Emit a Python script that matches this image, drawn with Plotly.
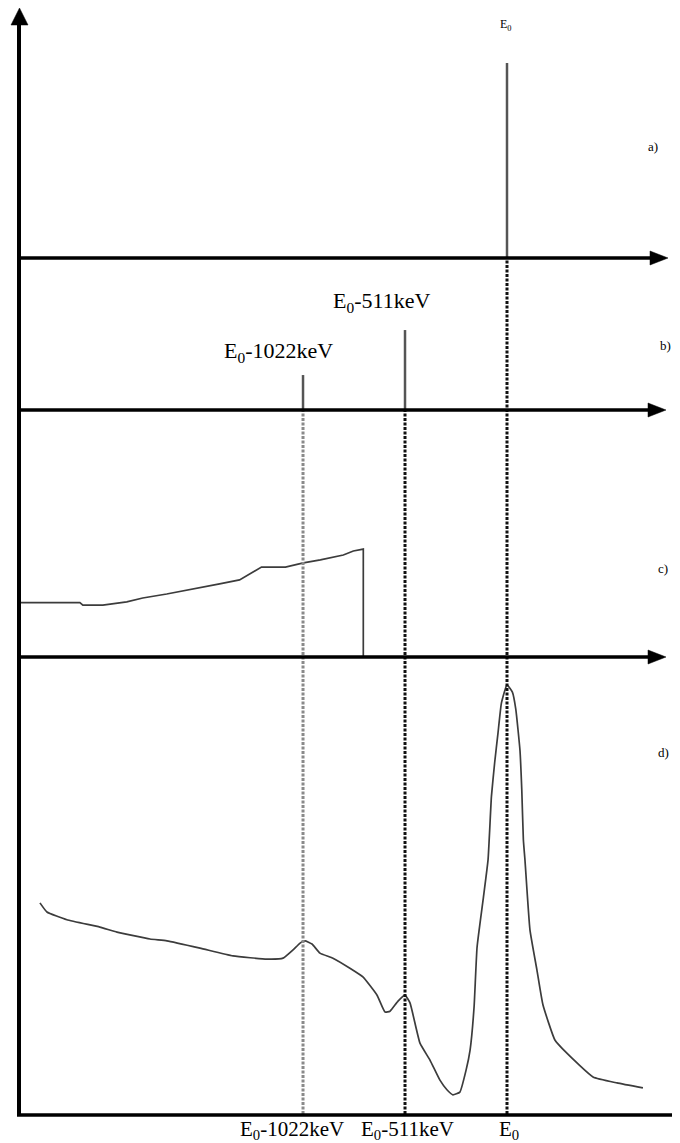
import plotly.graph_objects as go

# ---------------- data (schematic gamma spectrum, energy in keV) ----------------
E0 = 2440
# a) full-energy line only
a_energy = [2440]
a_height = [78]
# b) single and double escape lines
b_energy = [1418, 1929]
b_height = [23, 52.6]
b_labels = ["E<sub>0</sub>-1022keV", "E<sub>0</sub>-511keV"]
# c) Compton continuum
c_energy = [0, 300, 315, 415, 535, 615, 735, 900, 1000, 1100, 1210, 1330, 1420, 1505, 1620, 1670, 1720, 1720]
c_counts = [22, 22, 21, 21, 22.3, 23.9, 25.5, 27.9, 29.6, 31.2, 36.4, 36.4, 38.1, 39.3, 41.3, 42.9, 43.7, 0]
# d) measured spectrum
d_energy = [100, 135, 235, 400, 486, 651, 736, 902, 1067, 1237, 1318, 1368, 1403, 1428, 1463, 1503,
            1568, 1653, 1718, 1789, 1829, 1854, 1894, 1929, 1954, 2004, 2054, 2104, 2139, 2169, 2204,
            2235, 2255, 2275, 2290, 2320, 2345, 2362, 2378, 2395, 2412, 2440, 2467, 2484, 2505, 2514,
            2522, 2530, 2555, 2590, 2620, 2680, 2740, 2871, 2991, 3121]
d_counts = [46.2, 44.2, 42.5, 40.9, 39.8, 38.3, 37.9, 36.3, 34.6, 33.9, 34.1, 35.9, 37.4, 37.9, 37.2, 35.2,
            34.1, 31.9, 30.0, 26.0, 22.3, 22.5, 24.7, 26.0, 24.3, 15.5, 11.8, 7.4, 5.3, 4.2, 4.8,
            9.6, 14.0, 23.4, 36.5, 46.8, 55.6, 69.5, 76.8, 83.4, 89.9, 93.9, 92.3, 88.6, 79.6, 71.0,
            60.0, 55.6, 40.3, 31.5, 23.9, 16.2, 13.3, 8.1, 6.8, 5.7]
bottom_labels = ["E<sub>0</sub>-1022keV", "E<sub>0</sub>-511keV", "E<sub>0</sub>"]
panel_tags = ["a)", "b)", "c)", "d)"]

# ---------------- layout helpers ----------------
# the html page has an 8px body margin; the figure is placed inside it
OFF = 8
W, H = 680 - 2 * OFF, 1143 - OFF
def X(px):
    return (px - OFF) / W
def Y(py):
    return 1 - (py - OFF) / H

FONT = "Liberation Serif"
line_dark = "#3c3c3c"
stick = "#555555"

fig = go.Figure()

# a) stick
sx, sy = [], []
for e, h in zip(a_energy, a_height):
    sx += [e, e, None]; sy += [0, h, None]
fig.add_trace(go.Scatter(x=sx, y=sy, mode="lines", yaxis="y",
                         line=dict(color=stick, width=2.5), hoverinfo="skip"))
# b) sticks
sx, sy = [], []
for e, h in zip(b_energy, b_height):
    sx += [e, e, None]; sy += [0, h, None]
fig.add_trace(go.Scatter(x=sx, y=sy, mode="lines", yaxis="y2",
                         line=dict(color=stick, width=2.5), hoverinfo="skip"))
# c) continuum
fig.add_trace(go.Scatter(x=c_energy, y=c_counts, mode="lines", yaxis="y3",
                         line=dict(color=line_dark, width=1.7), hoverinfo="skip"))
# d) spectrum
fig.add_trace(go.Scatter(x=d_energy, y=d_counts, mode="lines", yaxis="y4",
                         line=dict(color=line_dark, width=1.7, shape="spline", smoothing=0.4),
                         hoverinfo="skip"))

# x scale: energy origin at page px 20, E0 at page px 507
k = (507 - 20) / E0
xr = [(OFF - 20) / k, (OFF + W - 20) / k]

doms = {
    "a": [Y(258), 1.0],
    "b": [Y(410), Y(258)],
    "c": [Y(657), Y(410)],
    "d": [Y(1114), Y(657)],
}
hid = dict(visible=False, range=[0, 100], fixedrange=True)
fig.update_layout(
    width=W, height=H, autosize=False,
    margin=dict(l=0, r=0, t=0, b=0),
    paper_bgcolor="white", plot_bgcolor="white",
    showlegend=False,
    xaxis=dict(visible=False, range=xr, domain=[0, 1], anchor="y4", fixedrange=True),
    yaxis=dict(domain=doms["a"], anchor="x", **hid),
    yaxis2=dict(domain=doms["b"], anchor="x", **hid),
    yaxis3=dict(domain=doms["c"], anchor="x", **hid),
    yaxis4=dict(domain=doms["d"], anchor="x", **hid),
)

shapes = []
# dashed guide lines
shapes.append(dict(type="line", xref="x", yref="paper", x0=E0, x1=E0, y0=Y(1114), y1=Y(258),
                   line=dict(color="#111111", width=3, dash="3px,1.5px")))
shapes.append(dict(type="line", xref="x", yref="paper", x0=b_energy[1], x1=b_energy[1], y0=Y(1114), y1=Y(410),
                   line=dict(color="#111111", width=3, dash="3px,1.5px")))
shapes.append(dict(type="line", xref="x", yref="paper", x0=b_energy[0], x1=b_energy[0], y0=Y(1114), y1=Y(410),
                   line=dict(color="#8a8a8a", width=3, dash="3px,1.5px")))

# axes lines
for py, tip in [(258, 668), (410, 666), (657, 666)]:
    shapes.append(dict(type="line", xref="paper", yref="paper", x0=X(17), x1=X(tip - 10), y0=Y(py), y1=Y(py),
                       line=dict(color="black", width=3.5)))
    shapes.append(dict(type="path", xref="paper", yref="paper",
                       path=f"M {X(tip)},{Y(py)} L {X(tip-18)},{Y(py-7)} L {X(tip-18)},{Y(py+7)} Z",
                       fillcolor="black", line=dict(color="black", width=0.5)))
# bottom axis
shapes.append(dict(type="line", xref="paper", yref="paper", x0=X(17), x1=1.0, y0=Y(1115), y1=Y(1115),
                   line=dict(color="black", width=3.5)))
# vertical axis with arrow
shapes.append(dict(type="line", xref="paper", yref="paper", x0=X(19), x1=X(19), y0=Y(1116), y1=Y(20),
                   line=dict(color="black", width=4)))
shapes.append(dict(type="path", xref="paper", yref="paper",
                   path=f"M {X(19.5)},{Y(8)} L {X(11)},{Y(25)} L {X(28)},{Y(25)} Z",
                   fillcolor="black", line=dict(color="black", width=0.5)))
fig.update_layout(shapes=shapes)

ann = []
def txt(text, px, py, size, xanchor="center"):
    ann.append(dict(text=text, xref="paper", yref="paper", x=X(px), y=Y(py), showarrow=False,
                    xanchor=xanchor, yanchor="middle",
                    font=dict(family=FONT, size=size, color="black")))

# top E0 label
txt("E<sub>0</sub>", 506, 25, 12)
# b) labels
txt(b_labels[0], 278, 352, 22)
txt(b_labels[1], 381, 302, 22)
# panel tags
txt(panel_tags[0], 653, 147, 13)
txt(panel_tags[1], 665, 345, 13)
txt(panel_tags[2], 663, 568, 13)
txt(panel_tags[3], 663, 752, 13)
# bottom labels
for lab, px in zip(bottom_labels, [292, 407, 509]):
    txt(lab, px, 1130, 21)
fig.update_layout(annotations=ann)

fig.write_html("out.html")
